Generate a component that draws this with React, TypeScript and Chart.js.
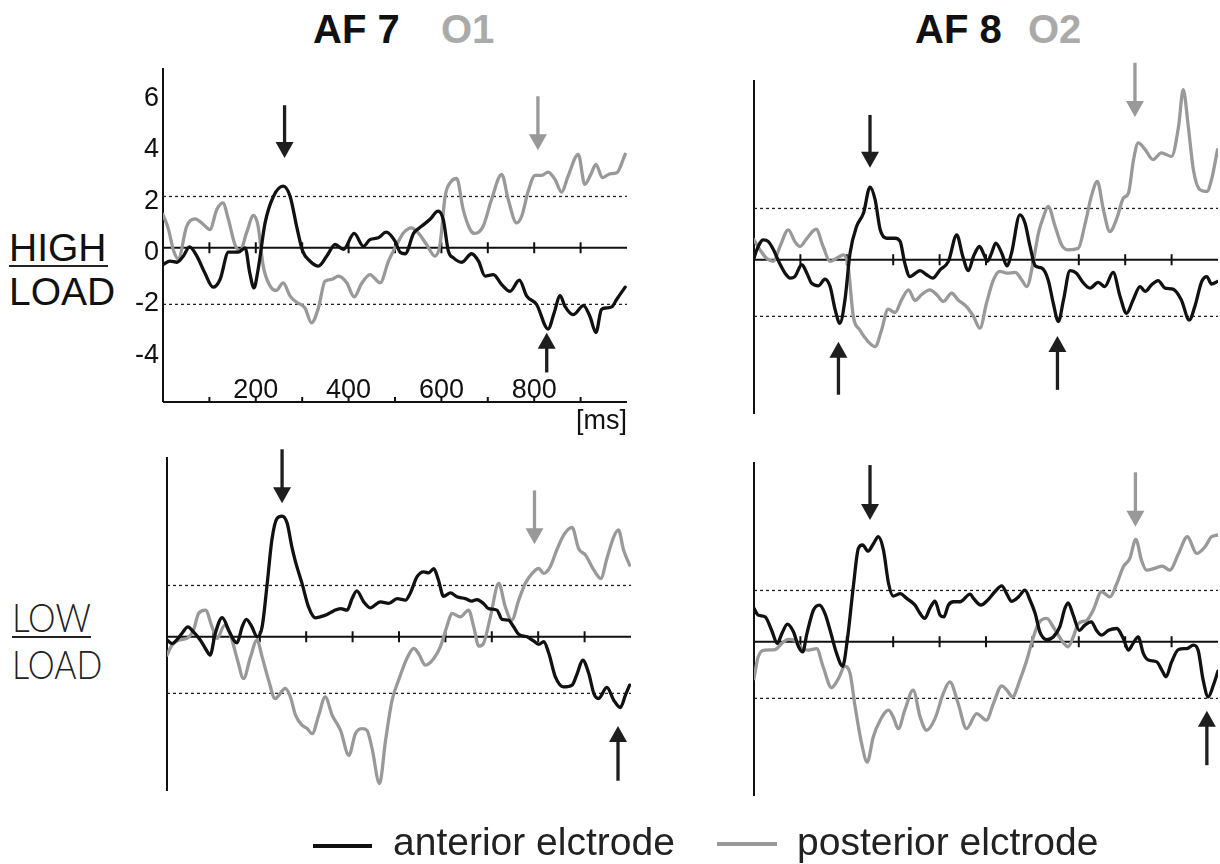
import React, { useEffect, useRef } from "react";
import { Chart, registerables } from "chart.js";

Chart.register(...registerables);

// ---------- scale / reference values ----------
const X_MIN = 0;
const X_MAX = 1000;
const Y_MIN = -6;
const Y_MAX = 7;
const thresholdUpper = 2;
const thresholdLower = -2.2;
const zeroLineTicks = [100, 200, 300, 400, 500, 600, 700, 800, 900];
const yTickLabels = [6, 4, 2, 0, -2, -4];
const xTickLabels = [200, 400, 600, 800];

// ---------- HIGH LOAD, AF7 / O1 ----------
const hiAF7_t = [0,15,30,44,57,73,90,108,123,141,152,162,177,187,196,205,220,238,259,274,288,301,317,335,353,371,389,412,432,446,464,481,500,511,522,540,557,575,593,604,615,626,644,665,680,694,712,730,748,768,784,805,830,843,856,866,884,906,920,933,945,956,967,978,996];
const hiAF7_v = [-0.65,-0.52,-0.56,-0.32,0.04,-0.32,-0.97,-1.53,-1.23,-0.17,-0.17,-0.17,0,-0.97,-1.56,-0.84,0.97,2.0,2.4,2.0,0.84,-0.13,-0.52,-0.71,-0.32,0.13,-0.06,0.56,0.06,0.32,0.39,0.61,0.26,-0.17,-0.23,0.56,0.84,1.1,1.43,1.1,-0.13,-0.39,-0.56,-0.23,-0.52,-1.1,-1.04,-1.43,-1.69,-1.26,-1.88,-2.2,-3.16,-2.53,-1.86,-2.27,-2.6,-2.25,-2.66,-3.3,-2.4,-2.34,-2.3,-2.0,-1.53];
const hiO1_t = [0,12,22,33,51,69,87,101,116,129,141,155,166,180,195,205,216,231,244,259,274,288,306,320,335,349,363,378,396,412,428,446,468,486,504,518,536,550,568,586,597,608,622,633,647,662,672,690,708,730,744,762,773,787,802,816,830,845,859,873,895,909,922,933,947,963,978,996];
const hiO1_v = [1.3,0.71,-0.06,-0.43,0.84,1.13,0.91,0.71,1.49,1.75,1.1,0.13,-0.13,0.58,1.26,0.84,-0.71,-1.49,-1.66,-1.36,-1.88,-2.12,-2.34,-2.92,-2.34,-1.3,-1.23,-1.1,-1.36,-1.91,-1.39,-1.04,-1.36,-0.52,0.13,0.58,0.78,0.58,0.13,-0.32,0.13,2.0,2.6,2.7,1.49,0.71,0.56,0.84,1.88,2.86,1.88,0.97,1.23,2.2,2.82,2.82,2.95,2.66,2.17,2.79,3.64,2.47,2.86,3.25,2.73,2.88,2.92,3.64];

// ---------- HIGH LOAD, AF8 / O2 ----------
const hiAF8_t = [0,6,20,31,42,55,67,78,88,103,114,124,139,153,164,175,185,196,207,221,236,250,261,272,286,304,315,325,336,358,372,385,401,419,437,450,462,473,486,496,503,512,521,534,545,555,573,584,595,606,620,634,645,656,667,681,695,709,724,742,756,774,789,803,817,832,843,857,871,886,903,921,938,950,965,976,986,999];
const hiAF8_v = [0.06,0.39,0.78,0.71,0.39,-0.13,-0.52,-0.71,-0.65,-0.19,-0.52,-0.91,-1.01,-0.75,-1.04,-1.95,-2.47,-1.56,0.26,1.3,1.82,2.83,2.34,1.17,0.84,0.84,0.71,-0.13,-0.65,-0.42,-0.58,-0.71,-0.39,-0.06,0.97,0.13,-0.42,0.13,0.52,0.19,-0.06,0.26,0.65,0.26,-0.23,0.26,1.75,1.43,0.52,-0.23,-0.32,-0.78,-1.69,-2.4,-1.56,-0.42,-0.52,-0.88,-1.1,-0.88,-1.04,-0.49,-1.43,-2.08,-1.56,-1.04,-1.23,-0.97,-0.81,-1.1,-1.14,-1.56,-2.34,-1.82,-0.84,-0.65,-0.94,-0.84];
const hiO2_t = [0,13,27,42,56,74,88,99,114,134,149,164,178,193,203,214,228,246,261,275,289,304,318,333,347,361,379,394,408,426,440,458,473,487,501,516,530,545,563,577,588,602,613,624,634,649,663,677,699,713,727,740,753,767,782,796,807,818,828,843,860,878,900,915,925,936,947,961,976,986,999];
const hiO2_v = [0.78,0.39,0.06,-0.06,0.52,1.17,0.71,0.52,0.84,1.19,0.52,-0.06,0.06,0.19,-0.26,-2.2,-2.73,-3.18,-3.38,-2.73,-1.92,-2.05,-1.56,-1.17,-1.58,-1.36,-1.17,-1.36,-1.62,-1.3,-1.56,-1.82,-2.2,-2.66,-1.69,-0.78,-0.45,-0.52,-0.49,-0.78,-1.04,-0.06,1.04,1.69,2.08,1.3,0.58,0.39,0.45,1.36,2.47,3.05,1.95,1.1,1.62,2.4,2.6,3.9,4.55,4.29,3.9,4.16,4.03,5.19,6.62,5.19,3.5,2.73,2.66,3.12,4.29];

// ---------- LOW LOAD, AF7 / O1 ----------
const loAF7_t = [0,11,22,32,45,57,72,85,93,104,119,133,144,151,162,171,183,194,205,216,226,237,248,259,269,277,291,305,320,330,345,359,374,388,399,409,424,438,460,478,496,514,524,539,553,564,575,585,596,611,625,643,657,668,682,693,711,722,736,747,758,776,790,801,812,823,837,855,873,884,896,909,920,930,948,963,977,988,997];
const loAF7_v = [-0.13,-0.26,-0.1,0.13,0.39,0.19,-0.13,-0.52,-0.71,0.13,0.75,0.26,-0.13,-0.23,0.39,0.68,0.39,0,0.39,2.08,3.77,4.61,4.7,4.42,3.51,2.92,2.08,1.17,0.74,0.78,0.87,1.01,1.1,1.04,1.49,1.79,1.36,1.13,1.36,1.3,1.49,1.43,1.69,2.34,2.53,2.49,2.65,2.21,1.58,1.71,1.56,1.49,1.39,1.45,1.3,1.1,1.04,0.68,0.65,0.39,0.1,0,-0.16,-0.29,-0.19,-0.65,-1.56,-1.95,-1.88,-1.43,-0.91,-1.43,-2.21,-2.4,-1.97,-2.47,-2.75,-2.27,-1.88];
const loO1_t = [0,11,25,43,57,68,83,97,108,124,137,152,165,180,194,205,219,233,255,266,277,291,302,313,327,341,356,374,392,406,420,431,442,458,471,485,499,517,532,542,557,575,589,603,614,632,650,661,672,682,697,715,729,743,758,772,787,801,812,826,840,855,873,887,902,920,935,948,963,973,984,997];
const loO1_v = [-0.71,-0.32,-0.13,-0.06,0.26,0.91,1.04,0.39,-0.06,0.45,0.06,-0.91,-1.62,-0.78,-0.13,-0.78,-1.69,-2.4,-2.01,-2.34,-3.05,-3.44,-3.57,-3.77,-3.05,-2.34,-3.05,-3.64,-4.61,-3.77,-3.57,-3.64,-4.35,-5.71,-4.03,-2.47,-1.69,-0.84,-0.45,-0.65,-1.1,-0.84,-0.39,0.39,0.91,0.78,1.04,0.39,-0.36,-0.26,0.78,2.08,1.17,0.65,1.43,2.08,2.47,2.66,2.47,2.73,3.38,3.96,4.26,3.44,3.18,2.6,2.27,3.05,3.9,4.16,3.38,2.79];

// ---------- LOW LOAD, AF8 / O2 ----------
const loAF8_t = [0,9,24,38,50,60,72,85,96,105,114,128,141,153,164,178,191,201,214,225,234,246,257,268,279,290,300,315,329,347,358,368,379,390,401,409,419,430,444,466,473,489,505,519,534,545,555,570,584,595,606,616,631,645,659,670,677,688,701,713,727,738,749,764,782,796,807,817,828,839,850,868,879,888,900,915,933,947,957,968,979,990,1000];
const loAF8_v = [1.3,1.04,0.97,0.45,-0.06,0.32,0.69,0.39,-0.19,-0.39,0.32,1.23,1.43,1.1,0.45,-0.45,-0.95,0.06,2.14,3.64,3.77,3.53,3.81,4.09,3.57,2.27,1.78,1.88,1.69,1.43,1.1,0.91,1.3,1.58,1.04,0.97,1.43,1.56,1.56,1.86,1.69,1.43,1.65,1.95,2.18,1.86,1.58,1.75,2.01,1.62,1.1,0.39,0.09,0.19,0.58,1.3,1.52,1.04,0.45,0.65,0.78,0.45,0.26,0.45,0.52,0.13,-0.32,-0.06,0.19,-0.45,-0.71,-0.78,-1.1,-1.36,-0.78,-0.3,-0.26,-0.13,-0.32,-1.49,-2.14,-1.69,-1.14];
const loO2_t = [0,9,24,45,60,74,88,103,117,135,149,167,182,196,207,218,232,244,257,272,290,300,311,325,343,358,372,390,408,422,440,458,480,501,516,534,545,557,573,588,600,613,631,645,663,677,688,699,717,731,749,767,782,796,810,823,835,846,864,880,896,915,934,954,972,986,1000];
const loO2_v = [-1.43,-0.58,-0.32,-0.3,-0.06,0.1,0.06,-0.26,-0.32,-0.26,-0.97,-1.78,-1.43,-0.95,-1.23,-2.53,-3.96,-4.68,-3.7,-3.05,-2.66,-2.92,-3.38,-2.66,-1.88,-2.92,-3.44,-2.99,-2.01,-1.56,-2.4,-3.38,-2.79,-3.05,-2.4,-1.71,-1.88,-2.14,-1.49,-0.71,0.06,0.71,0.91,0.58,0.06,-0.19,0.19,0.71,0.84,1.23,1.95,1.75,2.27,2.92,3.25,3.99,3.18,2.79,2.86,2.95,2.79,3.44,4.09,3.44,3.7,4.09,4.16];

// ---------- peak markers (time in ms, from tail value to tip value) ----------
type Arrow = { t: number; from: number; to: number; kind: "anterior" | "posterior" };
const hiAF7_arrows: Arrow[] = [
  { t: 262, from: 5.55, to: 3.5, kind: "anterior" },
  { t: 808, from: 5.9, to: 3.8, kind: "posterior" },
  { t: 827, from: -4.85, to: -3.3, kind: "anterior" },
];
const hiAF8_arrows: Arrow[] = [
  { t: 250, from: 5.64, to: 3.58, kind: "anterior" },
  { t: 821, from: 7.67, to: 5.56, kind: "posterior" },
  { t: 182, from: -5.25, to: -3.19, kind: "anterior" },
  { t: 654, from: -5.06, to: -2.96, kind: "anterior" },
];
const loAF7_arrows: Arrow[] = [
  { t: 248, from: 7.3, to: 5.2, kind: "anterior" },
  { t: 792, from: 5.7, to: 3.6, kind: "posterior" },
  { t: 972, from: -5.6, to: -3.47, kind: "anterior" },
];
const loAF8_arrows: Arrow[] = [
  { t: 250, from: 6.88, to: 4.74, kind: "anterior" },
  { t: 822, from: 6.6, to: 4.48, kind: "posterior" },
  { t: 976, from: -4.8, to: -2.68, kind: "anterior" },
];

// ---------- styling ----------
const ANTERIOR = "#111111";
const POSTERIOR = "#999999";
const ARROW_DARK = "#1e1e1e";
const ARROW_GRAY = "#999999";
const TITLE_GRAY = "#aaaaaa";
const FONT = "'Liberation Sans', Arial, Helvetica, sans-serif";
const THIN_FONT = "Lato, 'DejaVu Sans', sans-serif";
const PAD = 40;
const PLOT_W = 464;
const PLOT_H = 334;
const TICK_FONT_PX = 27;

const pts = (t: number[], v: number[]) => t.map((x, i) => ({ x, y: v[i] }));

const decorPlugin = {
  id: "decor",
  beforeDatasetsDraw(chart: any, _args: any, opts: any) {
    const ctx = chart.ctx;
    const xs = chart.scales.x;
    const ys = chart.scales.y;
    const area = chart.chartArea;
    ctx.save();
    ctx.strokeStyle = "#111";
    ctx.lineWidth = 2;
    // vertical axis
    ctx.beginPath();
    ctx.moveTo(xs.getPixelForValue(X_MIN), ys.getPixelForValue(Y_MAX));
    ctx.lineTo(xs.getPixelForValue(X_MIN), ys.getPixelForValue(Y_MIN));
    ctx.stroke();
    // ticks on the zero line
    const y0 = ys.getPixelForValue(0);
    ctx.beginPath();
    zeroLineTicks.forEach((t) => {
      const px = xs.getPixelForValue(t);
      ctx.moveTo(px, y0 - 5.5);
      ctx.lineTo(px, y0 + 5.5);
    });
    ctx.stroke();
    if (opts && opts.showAxes) {
      const yb = ys.getPixelForValue(Y_MIN);
      ctx.beginPath();
      ctx.moveTo(xs.getPixelForValue(X_MIN), yb);
      ctx.lineTo(xs.getPixelForValue(X_MAX), yb);
      zeroLineTicks.forEach((t) => {
        const px = xs.getPixelForValue(t);
        ctx.moveTo(px, yb);
        ctx.lineTo(px, yb - 5);
      });
      ctx.stroke();
      ctx.fillStyle = "#111";
      ctx.font = `${TICK_FONT_PX}px ${FONT}`;
      ctx.textBaseline = "alphabetic";
      ctx.textAlign = "right";
      yTickLabels.forEach((v) => {
        ctx.fillText(String(v), area.left - 4, ys.getPixelForValue(v) + 0.358 * TICK_FONT_PX + 2.5);
      });
      ctx.textAlign = "center";
      xTickLabels.forEach((t) => {
        ctx.fillText(String(t), xs.getPixelForValue(t), yb - 4.5);
      });
      ctx.textAlign = "right";
      ctx.fillText("[ms]", xs.getPixelForValue(X_MAX), yb + 27);
    }
    ctx.restore();
  },
  afterDatasetsDraw(chart: any, _args: any, opts: any) {
    const arrows: Arrow[] = (opts && opts.arrows) || [];
    const ctx = chart.ctx;
    const xs = chart.scales.x;
    const ys = chart.scales.y;
    ctx.save();
    arrows.forEach((a) => {
      const x = xs.getPixelForValue(a.t);
      const yTail = ys.getPixelForValue(a.from);
      const yTip = ys.getPixelForValue(a.to);
      const dir = yTip > yTail ? 1 : -1;
      const headLen = 16;
      const headHalf = 9;
      const color = a.kind === "anterior" ? ARROW_DARK : ARROW_GRAY;
      ctx.strokeStyle = color;
      ctx.fillStyle = color;
      ctx.lineWidth = 3.3;
      ctx.beginPath();
      ctx.moveTo(x, yTail);
      ctx.lineTo(x, yTip - dir * (headLen - 2));
      ctx.stroke();
      ctx.beginPath();
      ctx.moveTo(x, yTip);
      ctx.lineTo(x - headHalf, yTip - dir * headLen);
      ctx.lineTo(x + headHalf, yTip - dir * headLen);
      ctx.closePath();
      ctx.fill();
    });
    ctx.restore();
  },
};

type PanelProps = {
  left: number;
  top: number;
  anteriorT: number[];
  anteriorV: number[];
  posteriorT: number[];
  posteriorV: number[];
  arrows: Arrow[];
  showAxes?: boolean;
};

function Panel(p: PanelProps) {
  const ref = useRef<HTMLCanvasElement | null>(null);
  useEffect(() => {
    if (!ref.current) return;
    const refLine = (y: number) => [
      { x: X_MIN, y },
      { x: X_MAX, y },
    ];
    const curve = (label: string, t: number[], v: number[], color: string, order: number) => ({
      label,
      data: pts(t, v),
      borderColor: color,
      borderWidth: 3.3,
      tension: 0.4,
      cubicInterpolationMode: "monotone",
      borderJoinStyle: "round",
      borderCapStyle: "round",
      pointRadius: 0,
      order,
    });
    const chart = new Chart(ref.current, {
      type: "line",
      data: {
        datasets: [
          curve("anterior", p.anteriorT, p.anteriorV, ANTERIOR, 0),
          curve("posterior", p.posteriorT, p.posteriorV, POSTERIOR, 1),
          {
            label: "zero",
            data: refLine(0),
            borderColor: "#111",
            borderWidth: 2,
            pointRadius: 0,
            order: 2,
          },
          {
            label: "upper",
            data: refLine(thresholdUpper),
            borderColor: "#222",
            borderWidth: 1.3,
            borderDash: [3, 3],
            pointRadius: 0,
            order: 3,
          },
          {
            label: "lower",
            data: refLine(thresholdLower),
            borderColor: "#222",
            borderWidth: 1.3,
            borderDash: [3, 3],
            pointRadius: 0,
            order: 3,
          },
        ],
      },
      options: {
        animation: false,
        responsive: false,
        events: [],
        layout: { padding: PAD },
        scales: {
          x: { type: "linear", min: X_MIN, max: X_MAX, display: false },
          y: { type: "linear", min: Y_MIN, max: Y_MAX, display: false },
        },
        plugins: {
          legend: { display: false },
          tooltip: { enabled: false },
          title: { display: false },
          decor: { arrows: p.arrows, showAxes: !!p.showAxes },
        } as any,
      },
      plugins: [decorPlugin],
    } as any);
    return () => chart.destroy();
  }, []);
  const w = PLOT_W + 2 * PAD;
  const h = PLOT_H + 2 * PAD;
  return (
    <canvas
      ref={ref}
      width={w}
      height={h}
      style={{ position: "absolute", left: p.left - PAD, top: p.top - PAD, width: w, height: h }}
    />
  );
}

const txt = (extra: React.CSSProperties): React.CSSProperties => ({
  position: "absolute",
  fontFamily: FONT,
  lineHeight: 1,
  whiteSpace: "nowrap",
  margin: 0,
  ...extra,
});

export default function App() {
  return (
    <div
      style={{
        position: "absolute",
        left: 0,
        top: 0,
        width: 1220,
        height: 864,
        background: "#fff",
        overflow: "hidden",
      }}
    >
      {/* column titles */}
      <div style={txt({ left: 313, top: 9, fontSize: 40, fontWeight: 700, color: "#111" })}>AF 7</div>
      <div style={txt({ left: 441, top: 9, fontSize: 40, fontWeight: 700, color: TITLE_GRAY })}>O1</div>
      <div style={txt({ left: 915, top: 9, fontSize: 40, fontWeight: 700, color: "#111" })}>AF 8</div>
      <div style={txt({ left: 1028, top: 9, fontSize: 40, fontWeight: 700, color: TITLE_GRAY })}>O2</div>

      {/* row labels */}
      <div style={txt({ left: 9, top: 228, fontSize: 39, color: "#111" })}>HIGH</div>
      <div style={txt({ left: 9, top: 265, width: 99, height: 2, background: "#222" })} />
      <div style={txt({ left: 9, top: 272, fontSize: 39, color: "#111" })}>LOAD</div>

      <div style={txt({ left: 12, top: 597, fontSize: 40, fontWeight: 300, color: "#222", fontFamily: THIN_FONT, transform: "scaleX(0.87)", transformOrigin: "left top" })}>LOW</div>
      <div style={txt({ left: 12, top: 636, width: 79, height: 2, background: "#222" })} />
      <div style={txt({ left: 12, top: 644, fontSize: 40, fontWeight: 300, color: "#222", fontFamily: THIN_FONT, transform: "scaleX(0.85)", transformOrigin: "left top" })}>LOAD</div>

      <Panel left={163} top={68} anteriorT={hiAF7_t} anteriorV={hiAF7_v} posteriorT={hiO1_t} posteriorV={hiO1_v} arrows={hiAF7_arrows} showAxes />
      <Panel left={754} top={80} anteriorT={hiAF8_t} anteriorV={hiAF8_v} posteriorT={hiO2_t} posteriorV={hiO2_v} arrows={hiAF8_arrows} />
      <Panel left={167} top={457} anteriorT={loAF7_t} anteriorV={loAF7_v} posteriorT={loO1_t} posteriorV={loO1_v} arrows={loAF7_arrows} />
      <Panel left={754} top={462} anteriorT={loAF8_t} anteriorV={loAF8_v} posteriorT={loO2_t} posteriorV={loO2_v} arrows={loAF8_arrows} />

      {/* legend */}
      <div style={txt({ left: 313, top: 844, width: 59, height: 4, background: ANTERIOR })} />
      <div style={txt({ left: 393, top: 822, fontSize: 39, color: "#222" })}>anterior elctrode</div>
      <div style={txt({ left: 717, top: 842, width: 60, height: 4, background: POSTERIOR })} />
      <div style={txt({ left: 797, top: 822, fontSize: 39, color: "#222" })}>posterior elctrode</div>
    </div>
  );
}
